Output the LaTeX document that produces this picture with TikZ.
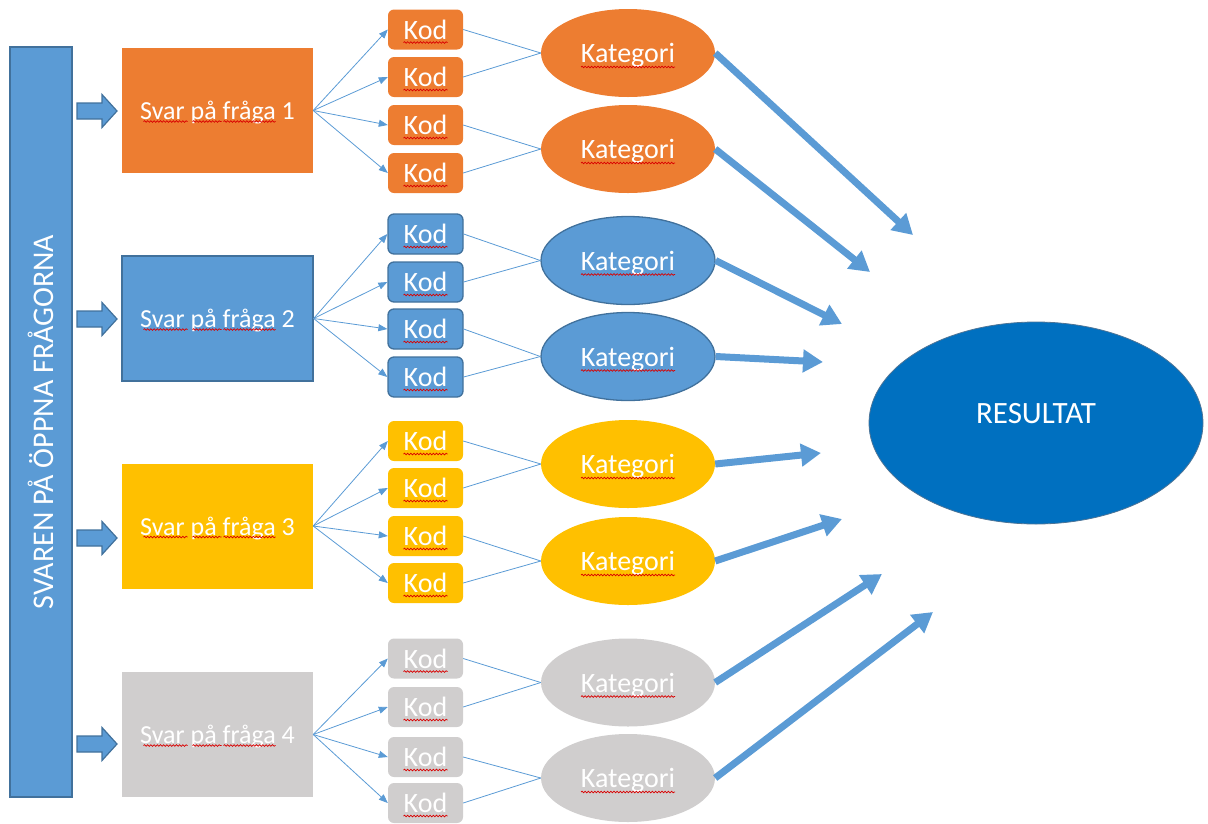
\documentclass[tikz,border=0pt]{standalone}
\usepackage{fontspec}
\setmainfont{Carlito}
\usetikzlibrary{arrows.meta,shapes.geometric,decorations.pathmorphing}
\definecolor{orangefill}{HTML}{ED7D31}
\definecolor{bluefill}{HTML}{5B9BD5}
\definecolor{blueline}{HTML}{41719C}
\definecolor{yellowfill}{HTML}{FFC000}
\definecolor{grayfill}{HTML}{D0CECE}
\definecolor{resfill}{HTML}{0070C0}
\definecolor{pilblue}{HTML}{5B9BD5}
\tikzset{
  rad1/.style={fill=orangefill},
  rad2/.style={fill=bluefill,draw=blueline,line width=1.3pt},
  rad3/.style={fill=yellowfill},
  rad4/.style={fill=grayfill},
  svarbox/.style={minimum width=191pt,minimum height=125pt,inner sep=0pt,text depth=0pt,
    text=white,font=\fontsize{26}{30}\selectfont},
  kodbox/.style={rounded corners=6pt,minimum width=75pt,minimum height=40pt,inner sep=0pt,
    text depth=0pt,text=white,font=\fontsize{28}{32}\selectfont},
  katell/.style={ellipse,minimum width=174pt,minimum height=88pt,inner sep=0pt,text depth=0pt,
    text=white,font=\fontsize{28}{32}\selectfont},
  kodpil/.style={draw=pilblue,line width=0.8pt,-{Triangle[length=9pt,width=7pt]}},
  kodlinje/.style={draw=pilblue,line width=0.8pt},
  storpil/.style={draw=pilblue,line width=7pt,-{Triangle[length=20pt,width=22pt]}},
  blockpil/.style={fill=bluefill,draw=blueline,line width=1.2pt},
  squig/.style={draw=red!85!black,line width=0.7pt,decorate,
    decoration={snake,segment length=3.2pt,amplitude=0.8pt}}
}
\begin{document}
\begin{tikzpicture}[x=1pt,y=-1pt]
\useasboundingbox (0,0) rectangle (1208,823);
% vanster stapel
\node[fill=bluefill,draw=blueline,line width=1.5pt,minimum width=62pt,minimum height=750pt,inner sep=0pt] (stapel) at (41,422) {};
\node[rotate=90,text=white,text depth=0pt,font=\fontsize{30}{34}\selectfont] (stapeltext) at (41,422) {SVAREN PÅ ÖPPNA FRÅGORNA};
% resultat
\node[ellipse,fill=resfill,draw=blueline!80!gray,line width=0.8pt,minimum width=334pt,minimum height=202pt,
  inner sep=0pt,text depth=20pt,text=white,font=\fontsize{31}{35}\selectfont] (res) at (1036,423) {RESULTAT};
% rader
\foreach \r/\by/\ay/\ka/\kb/\kc/\kd/\ca/\cb in {
  1/110.5/111/29.5/77/125/173/53/149,
  2/318.5/319/234/282/329/377/260.5/356.5,
  3/526/538/441/488/536/583/464/561,
  4/734.5/744/658.5/707/757/803/682.5/778}
{
  \draw[blockpil] (77,\ay-8) -- (102,\ay-8) -- (102,\ay-16.5) -- (117,\ay)
    -- (102,\ay+16.5) -- (102,\ay+8) -- (77,\ay+8) -- cycle;
  \node[svarbox,rad\r] (s\r) at (217.5,\by) {Svar på fråga \r};
  \foreach \k/\ky in {1/\ka,2/\kb,3/\kc,4/\kd}{
    \node[kodbox,rad\r] (k\r\k) at (425.5,\ky) {Kod};
    \draw[kodpil] (s\r.east) -- (k\r\k.west);
    \draw[squig] ([xshift=-22pt,yshift=-13pt]k\r\k.center) -- ++(44,0);
  }
  \node[katell,rad\r] (c\r1) at (628,\ca) {Kategori};
  \node[katell,rad\r] (c\r2) at (628,\cb) {Kategori};
  \draw[kodlinje] (k\r1.east) -- (c\r1.west);
  \draw[kodlinje] (k\r2.east) -- (c\r1.west);
  \draw[kodlinje] (k\r3.east) -- (c\r2.west);
  \draw[kodlinje] (k\r4.east) -- (c\r2.west);
  \draw[squig] ([xshift=-47pt,yshift=-14pt]c\r1.center) -- ++(94,0);
  \draw[squig] ([xshift=-47pt,yshift=-14pt]c\r2.center) -- ++(94,0);
  \draw[squig] ([xshift=-74pt,yshift=-11pt]s\r.center) -- ++(44,0);
  \draw[squig] ([xshift=-25pt,yshift=-11pt]s\r.center) -- ++(29,0);
  \draw[squig] ([xshift=6pt,yshift=-11pt]s\r.center) -- ++(52,0);
}
% pilar mot resultat
\coordinate (m11) at (913,235);
\coordinate (m12) at (870,272);
\coordinate (m21) at (842,324);
\coordinate (m22) at (823,362);
\coordinate (m31) at (821,453);
\coordinate (m32) at (842,519);
\coordinate (m41) at (882,574);
\coordinate (m42) at (933,612);
\foreach \r in {1,...,4}{
  \draw[storpil] (c\r1.east) -- (m\r1);
  \draw[storpil] (c\r2.east) -- (m\r2);
}
\end{tikzpicture}
\end{document}
